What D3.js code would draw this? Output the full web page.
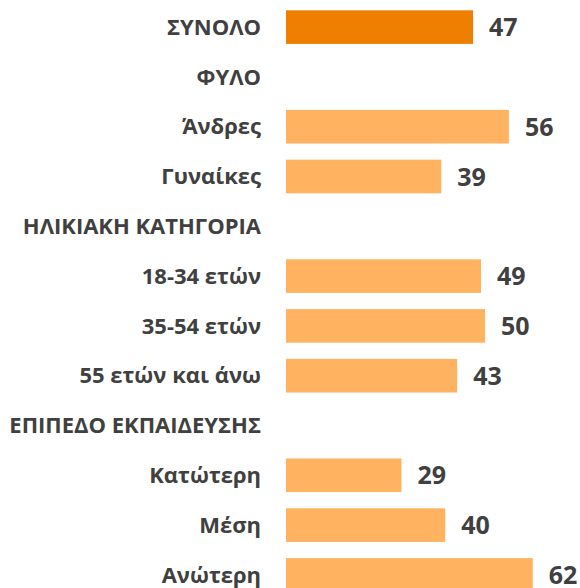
<!DOCTYPE html>
<html>
<head>
<meta charset="utf-8">
<script src="https://cdn.jsdelivr.net/npm/d3@7"></script>
<style>
  body { margin: 0; background: #fff; }
  text { font-family: "Open Sans", sans-serif; font-weight: bold; fill: #404040; }
</style>
</head>
<body>
<svg></svg>
<script>
// rows of the chart, headers have no value
let categories = ["ΣΥΝΟΛΟ", "ΦΥΛΟ", "Άνδρες", "Γυναίκες", "ΗΛΙΚΙΑΚΗ ΚΑΤΗΓΟΡΙΑ",
  "18-34 ετών", "35-54 ετών", "55 ετών και άνω", "ΕΠΙΠΕΔΟ ΕΚΠΑΙΔΕΥΣΗΣ",
  "Κατώτερη", "Μέση", "Ανώτερη"]
let values = [47, null, 56, 39, null, 49, 50, 43, null, 29, 40, 62]

let svgWidth = 580, svgHeight = 588;

let svg = d3.select('svg')
  .attr("width", svgWidth)
  .attr("height", svgHeight);

let xScale = d3.scaleLinear()
  .domain([0, 100])
  .range([286, 684]);

let yScale = d3.scaleBand()
  .domain(categories)
  .range([10.3, 591.7])
  .paddingInner(0.325)
  .paddingOuter(0);

let rows = categories.map((c, i) => ({ name: c, value: values[i], index: i }));

svg.selectAll("rect")
  .data(rows.filter(d => d.value != null))
  .enter()
  .append("rect")
  .attr("x", xScale(0))
  .attr("y", d => yScale(d.name))
  .attr("width", d => xScale(d.value) - xScale(0))
  .attr("height", yScale.bandwidth())
  .attr("fill", d => d.index == 0 ? "#EF7F00" : "#FFB25F");

// category labels on the left
svg.selectAll("text.cat")
  .data(rows)
  .enter()
  .append("text")
  .attr("class", "cat")
  .attr("x", 261)
  .attr("y", d => yScale(d.name) + yScale.bandwidth() / 2)
  .attr("dy", "0.35em")
  .attr("text-anchor", "end")
  .style("font-size", "22px")
  .text(d => d.name);

// value labels
svg.selectAll("text.val")
  .data(rows.filter(d => d.value != null))
  .enter()
  .append("text")
  .attr("class", "val")
  .attr("x", d => xScale(d.value) + 16)
  .attr("y", d => yScale(d.name) + yScale.bandwidth() / 2)
  .attr("dy", "0.36em")
  .style("font-size", "25px")
  .text(d => d.value);
</script>
</body>
</html>
